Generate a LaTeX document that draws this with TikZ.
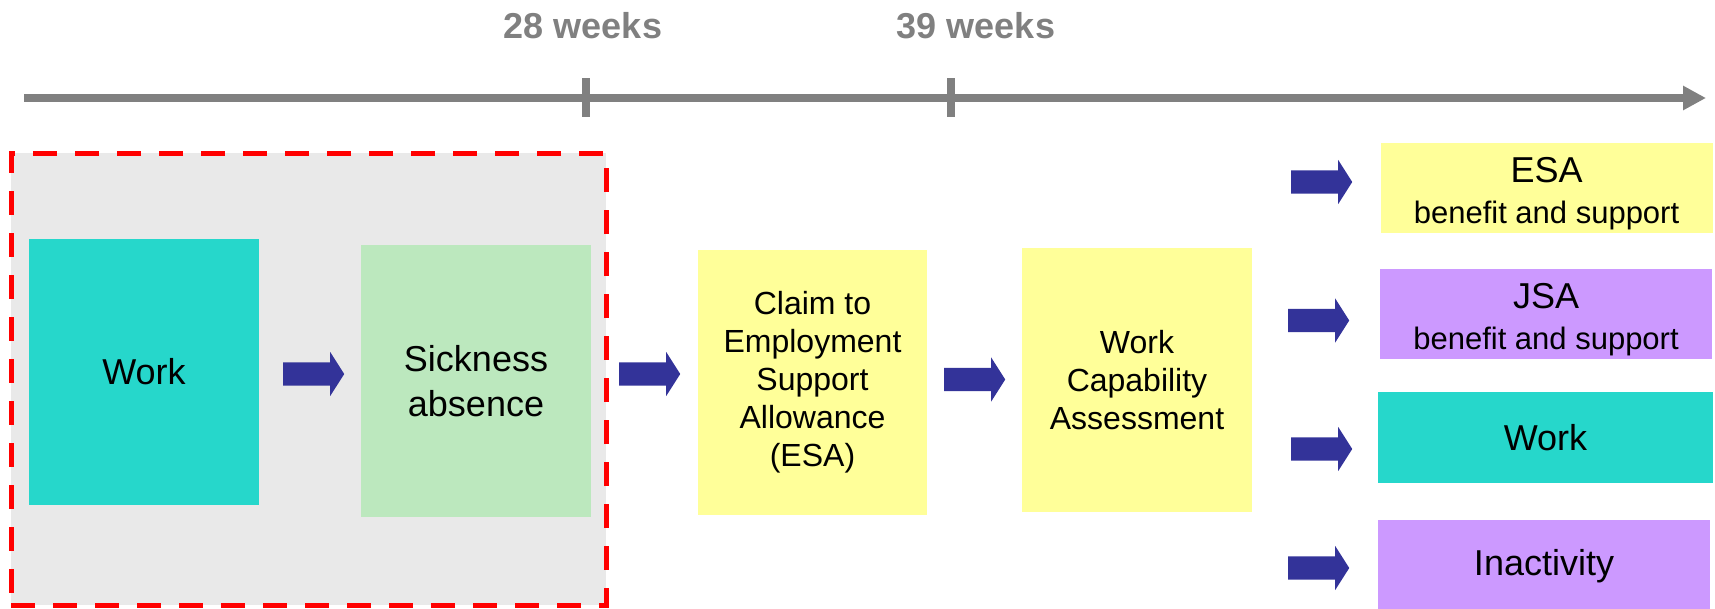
\documentclass[tikz,border=0pt]{standalone}
\usepackage{fontspec}
\setmainfont{Liberation Sans}
\usetikzlibrary{arrows.meta,shapes.arrows}
\definecolor{workcyan}{HTML}{26D7CB}
\definecolor{sickgreen}{HTML}{BCE8BE}
\definecolor{esayellow}{HTML}{FFFF99}
\definecolor{jsapurple}{HTML}{CC99FF}
\definecolor{flowblue}{HTML}{333399}
\definecolor{axisgrey}{HTML}{808080}
\definecolor{phasegrey}{HTML}{E9E9E9}
\begin{document}
\begin{tikzpicture}[x=1pt, y=-1pt,
		box/.style={rectangle, inner sep=0pt, align=center, font=\fontsize{36}{45}\selectfont},
		smallbox/.style={box, font=\fontsize{32}{38}\selectfont},
		outbox/.style={box, minimum width=332pt, minimum height=90pt},
		twoline/.style={outbox, font=\fontsize{36}{41}\selectfont, text height=79pt, text depth=8pt},
		flow/.style={single arrow, fill=flowblue, draw=none, inner sep=0pt, text height=11.5pt, text depth=11.5pt, minimum width=44pt, minimum height=61pt, single arrow head extend=10.5pt, single arrow tip angle=115},
		weeks/.style={font=\fontsize{36}{40}\selectfont\bfseries, text=axisgrey, inner sep=0pt},
		tick/.style={draw=axisgrey, line width=8pt}]
			\useasboundingbox (0,0) rectangle (1715,608);
			
			\node[weeks] (w28) at (583,26) {28 weeks};
			\node[weeks] (w39) at (976,26) {39 weeks};
			
			\coordinate (axstart) at (24,98);
			\coordinate (axend) at (1706,98);
			\draw[draw=axisgrey, line width=8pt, -{Triangle[length=23pt, width=23pt]}] (axstart) -- (axend);
			\draw[tick] (586,78) -- (586,117);
			\draw[tick] (951,78) -- (951,117);
			
			\node[draw=red, fill=phasegrey, line width=5pt, dash pattern=on 24pt off 18pt, minimum width=595pt, minimum height=452pt, inner sep=0pt] (phase) at (308.5,379) {};
			
			\node[box, fill=workcyan, minimum width=230pt, minimum height=266pt] (work) at (144,372) {Work};
			\node[box, fill=sickgreen, minimum width=230pt, minimum height=272pt] (sick) at (476,381) {Sickness\\absence};
			\node[smallbox, fill=esayellow, minimum width=229pt, minimum height=265pt] (claim) at (812.5,382.5) {Claim to\\Employment\\Support\\Allowance\\(ESA)};
			\node[smallbox, fill=esayellow, minimum width=230pt, minimum height=264pt] (wca) at (1137,380) {Work\\Capability\\Assessment};
			
			\node[twoline, fill=esayellow] (esa) at (1546.5,188) {ESA\\{\fontsize{31}{41}\selectfont benefit and support}};
			\node[twoline, fill=jsapurple] (jsa) at (1546,314) {JSA\\{\fontsize{31}{41}\selectfont benefit and support}};
			\node[outbox, fill=workcyan, minimum width=335pt, minimum height=91pt] (work2) at (1545.5,437.5) {Work};
			\node[outbox, fill=jsapurple, minimum height=92pt] (inact) at (1544,566) {Inactivity};
			
			\node[flow] (f1) at (310,374) {};
			\node[flow] (f2) at (646,374) {};
			\node[flow] (f3) at (971,379.5) {};
			\node[flow] (r1) at (1318,182) {};
			\node[flow] (r2) at (1315,320.5) {};
			\node[flow] (r3) at (1318,449) {};
			\node[flow] (r4) at (1315,568) {};
			
		\end{tikzpicture}
\end{document}
